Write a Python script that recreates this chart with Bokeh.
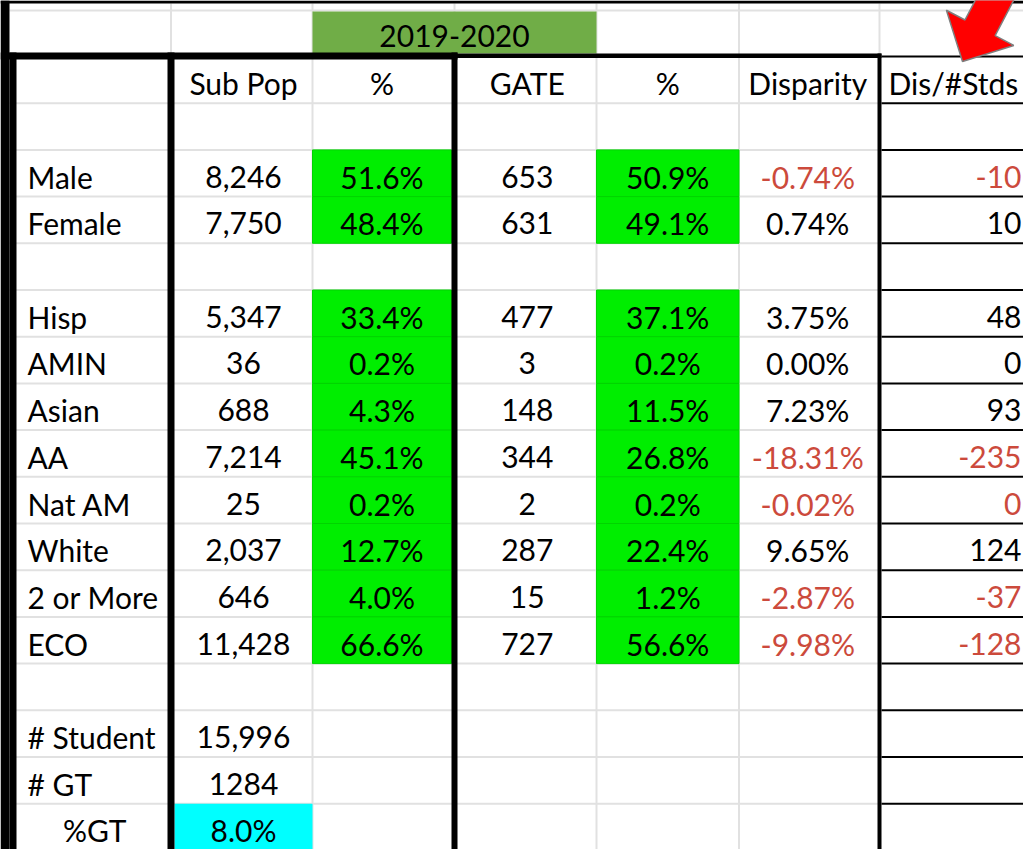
import math
from bokeh.plotting import figure
from bokeh.models import Range1d, ColumnDataSource
from bokeh.core.properties import value
from bokeh.embed import file_html
from bokeh.resources import INLINE

# ---------------- data ----------------
title = "2019-2020"
col_headers = ["Sub Pop", "%", "GATE", "%", "Disparity", "Dis/#Stds"]
groups = ["Male", "Female", "Hisp", "AMIN", "Asian", "AA", "Nat AM", "White", "2 or More", "ECO"]
section = [0, 0, 1, 1, 1, 1, 1, 1, 1, 1]
sub_pop = [8246, 7750, 5347, 36, 688, 7214, 25, 2037, 646, 11428]
sub_pct = [51.6, 48.4, 33.4, 0.2, 4.3, 45.1, 0.2, 12.7, 4.0, 66.6]
gate = [653, 631, 477, 3, 148, 344, 2, 287, 15, 727]
gate_pct = [50.9, 49.1, 37.1, 0.2, 11.5, 26.8, 0.2, 22.4, 1.2, 56.6]
disparity = [-0.74, 0.74, 3.75, 0.00, 7.23, -18.31, -0.02, 9.65, -2.87, -9.98]
dis_stds = [-10, 10, 48, 0, 93, -235, 0, 124, -37, -128]
total_labels = ["# Student", "# GT", "%GT"]
n_students = 15996
n_gt = 1284
pct_gt = 8.0

# ---------------- layout / style ----------------
VX0, VY0 = 0, 0
W, H = 1023, 849
EDGES = [16, 170.5, 312, 454, 596, 738.5, 879, 1040]
ROW_TOP, ROW_H = 56.0, 46.7
TITLE_TOP = 10
FONT = "Lato"
FS = "30px"
TEXT_SHIFT = 11      # compensates the renderer's baseline placement
GRID = "#E1E1E1"
GREEN = "#00EE00"
GREEN_EDGE = "#00D400"
TITLE_GREEN = "#70AD47"
CYAN = "#00FFFF"
RED = "#CC4A3C"
BLACK = "#000000"

def row_top(r):
    return ROW_TOP + r * ROW_H

def row_bot(r):
    return ROW_TOP + (r + 1) * ROW_H

def base(r):
    return row_bot(r) - 9 - TEXT_SHIFT

def ccenter(c):
    left = EDGES[c] + (3.5 if c in (1, 3) else 0)
    right = EDGES[c + 1] - (3 if c + 1 in (3, 6) else 0)
    return (left + right) / 2

p = figure(width=W, height=H,
           x_range=Range1d(VX0, VX0 + W), y_range=Range1d(VY0 + H, VY0),
           output_backend="svg", toolbar_location=None,
           x_axis_type=None, y_axis_type=None, min_border=0,
           outline_line_color=None, background_fill_color="white",
           border_fill_color="white")

data_rows = [2 + i + section[i] for i in range(len(groups))]
total_rows = [data_rows[-1] + 2 + k for k in range(len(total_labels))]
n_rows = total_rows[-1] + 1
bottom_y = row_bot(n_rows - 1)

# gray gridlines
vx = EDGES[1:7]
p.segment(x0=vx, y0=[3] * len(vx), x1=vx, y1=[bottom_y] * len(vx), line_color=GRID, line_width=2)
hy = [TITLE_TOP] + [row_top(r) for r in range(1, n_rows + 1)]
hx1 = [1040] + [EDGES[6]] * n_rows
p.segment(x0=[9] * len(hy), y0=hy, x1=hx1, y1=hy, line_color=GRID, line_width=2)

# title fill
p.quad(left=[EDGES[2]], right=[EDGES[4]], top=[TITLE_TOP + 1], bottom=[53], fill_color=TITLE_GREEN, line_color=None)

# green cells
gl, gr, gt, gb = [], [], [], []
for r in data_rows:
    for c in (2, 4):
        gl.append(EDGES[c]); gr.append(EDGES[c + 1] - (3 if c == 2 else 0))
        gt.append(row_top(r)); gb.append(row_bot(r))
p.quad(left=gl, right=gr, top=gt, bottom=gb, fill_color=GREEN, line_color=GREEN_EDGE, line_width=1)

# cyan cell
p.quad(left=[EDGES[1] + 3.5], right=[EDGES[2]], top=[row_top(total_rows[-1])], bottom=[bottom_y],
       fill_color=CYAN, line_color=None)

# black borders
bl = [0, 9, 0, 167, 451, 451, 877, 0]
br = [9, 16, 457, 174, 457, 881, 881, 881]
bt = [0, 52, 52, 52, 52, 53, 53, bottom_y]
bb = [900, 900, 59, 900, 900, 57.5, 900, 900]
p.quad(left=bl, right=br, top=bt, bottom=bb, fill_color=BLACK, line_color=None)
p.quad(left=[0], right=[1040], top=[0], bottom=[3], fill_color=BLACK, line_color=None)
# column G thin black row lines
gy = [row_top(r) for r in range(0, n_rows + 1)]
gy[0] = 56
p.segment(x0=[881] * len(gy), y0=gy, x1=[1040] * len(gy), y1=gy, line_color=BLACK, line_width=2)

# ---------------- text ----------------
def put(xs, ys, texts, colors, align):
    src = ColumnDataSource(dict(x=xs, y=ys, t=texts, c=colors))
    p.text(x="x", y="y", text="t", text_color="c", source=src, text_align=align,
           text_baseline="alphabetic", text_font=value(FONT), text_font_size=FS)

put([(EDGES[2] + EDGES[4]) / 2], [46 - TEXT_SHIFT], [title], [BLACK], "center")

hdr_x = [ccenter(c) for c in range(1, 6)]
put(hdr_x, [base(0)] * 5, col_headers[:5], [BLACK] * 5, "center")
put([888], [base(0)], [col_headers[5]], [BLACK], "left")

ys = [base(r) for r in data_rows]
n = len(groups)
put([27] * n, ys, groups, [BLACK] * n, "left")
put([ccenter(1)] * n, ys, [f"{v:,}" for v in sub_pop], [BLACK] * n, "center")
put([ccenter(2)] * n, ys, [f"{v:.1f}%" for v in sub_pct], [BLACK] * n, "center")
put([ccenter(3)] * n, ys, [f"{v:,}" for v in gate], [BLACK] * n, "center")
put([ccenter(4)] * n, ys, [f"{v:.1f}%" for v in gate_pct], [BLACK] * n, "center")
neg = [RED if d < 0 else BLACK for d in disparity]
put([ccenter(5)] * n, ys, [f"{v:.2f}%" for v in disparity], neg, "center")
put([1021] * n, ys, [f"{v:d}" for v in dis_stds], neg, "right")

tys = [base(r) for r in total_rows]
put([27, 27], tys[:2], total_labels[:2], [BLACK] * 2, "left")
put([ccenter(0) + 1], [tys[2]], [total_labels[2]], [BLACK], "center")
put([ccenter(1)] * 3, tys, [f"{n_students:,}", f"{n_gt}", f"{pct_gt:.1f}%"], [BLACK] * 3, "center")

# ---------------- red arrow annotation ----------------
tip = (962, 61)
ux, uy = 0.463, -0.886
nx, ny = 0.886, 0.463
head_len, head_half, shaft_half, shaft_len = 38, 38, 17, 110
bx, by = tip[0] + head_len * ux, tip[1] + head_len * uy
ex, ey = bx + shaft_len * ux, by + shaft_len * uy
ax = [tip[0], bx - head_half * nx, bx - shaft_half * nx, ex - shaft_half * nx,
      ex + shaft_half * nx, bx + shaft_half * nx, bx + head_half * nx]
ay = [tip[1], by - head_half * ny, by - shaft_half * ny, ey - shaft_half * ny,
      ey + shaft_half * ny, by + shaft_half * ny, by + head_half * ny]
p.patch(ax, ay, fill_color="#FF0000", line_color="#7F7F7F", line_width=1.5)

open("out.html", "w").write(file_html(p, INLINE))
